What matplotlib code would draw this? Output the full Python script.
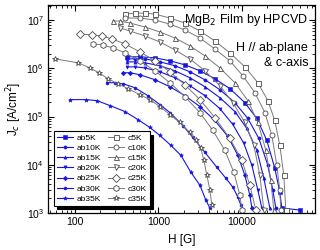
import matplotlib
matplotlib.use("Agg")
import matplotlib.pyplot as plt
from matplotlib.ticker import LogLocator, NullFormatter

plt.rcParams['font.family'] = ['Liberation Sans', 'DejaVu Sans']

# ---- data (H in G, Jc in A/cm^2) ----
ab5_H = [420, 600, 908, 1373, 2076, 3141, 4751, 7184, 10861, 15128, 19923, 24827, 28498, 30113, 49500]
ab5_J = [1.73e6, 1.73e6, 1.65e6, 1.43e6, 1.18e6, 8.88e5, 6.08e5, 3.78e5, 1.94e5, 9.1e4, 3.2e4, 8.47e3, 2.71e3, 1.27e3, 1.15e3]
ab10_H = [420, 523, 689, 1042, 1576, 2384, 3605, 5452, 8245, 11800, 15985, 20478, 23497, 25520]
ab10_J = [1.57e6, 1.57e6, 1.57e6, 1.36e6, 1.13e6, 8.47e5, 5.79e5, 3.6e5, 1.94e5, 9.1e4, 3.52e4, 9.77e3, 2.98e3, 1.27e3]
ab15_H = [420, 523, 689, 1042, 1576, 2384, 3605, 5452, 8245, 11478, 15128, 18345, 21636]
ab15_J = [1.36e6, 1.36e6, 1.3e6, 1.13e6, 8.88e5, 6.37e5, 4.15e5, 2.46e5, 1.27e5, 5.66e4, 1.99e4, 5.27e3, 1.27e3]
ab20_H = [420, 523, 689, 1042, 1576, 2384, 3605, 5452, 7803, 10566, 13181, 15551, 17360]
ab20_J = [1.07e6, 1.07e6, 1.02e6, 8.47e5, 6.37e5, 4.36e5, 2.71e5, 1.46e5, 6.84e4, 2.77e4, 9.77e3, 2.98e3, 1.27e3]
ab25_H = [376, 456, 600, 908, 1373, 2076, 3141, 4751, 6799, 8956, 10861, 12466, 13181]
ab25_J = [8.08e5, 8.08e5, 7.35e5, 5.79e5, 4.15e5, 2.71e5, 1.61e5, 8.27e4, 3.87e4, 1.57e4, 6.08e3, 2.35e3, 1.27e3]
ab30_H = [242, 301, 376, 523, 748, 1042, 1373, 1965, 2589, 3605, 5022, 6432, 7803, 8956, 9728, 10000]
ab30_J = [5.03e5, 5.03e5, 4.79e5, 3.96e5, 2.71e5, 1.77e5, 1.21e5, 6.51e4, 3.69e4, 1.81e4, 8.87e3, 5.27e3, 3.43e3, 2.14e3, 1.46e3, 1.15e3]
ab35_H = [87, 135, 183, 262, 397, 567, 791, 1042, 1413, 1860, 2449, 3141, 3706, 4139]
ab35_J = [2.24e5, 2.24e5, 2.14e5, 1.69e5, 1.27e5, 8.67e4, 5.93e4, 4.06e4, 2.52e4, 1.57e4, 7.0e3, 3.78e3, 1.85e3, 1.27e3]

c5_H = [397, 523, 689, 908, 1373, 2076, 3141, 4751, 7184, 10861, 15551, 20478, 24827, 28498, 31824, 33636]
c5_J = [1.33e7, 1.39e7, 1.39e7, 1.33e7, 1.1e7, 8.67e6, 5.93e6, 3.69e6, 2.09e6, 1.07e6, 5.03e5, 2.14e5, 8.27e4, 2.52e4, 6.08e3, 1.15e3]
c10_H = [397, 600, 908, 1373, 2076, 3141, 4751, 7184, 10280, 14317, 18855, 22860, 26232, 28498, 29295]
c10_J = [1.1e7, 1.1e7, 1.0e7, 8.27e6, 6.22e6, 4.25e6, 2.52e6, 1.43e6, 7.0e5, 3.13e5, 1.21e5, 4.06e4, 9.77e3, 2.98e3, 1.15e3]
c15_H = [285, 346, 456, 689, 1042, 1576, 2384, 3605, 5452, 8245, 11800, 15551, 19382, 22240, 24153]
c15_J = [9.53e6, 9.53e6, 8.67e6, 7.18e6, 5.66e6, 4.25e6, 2.91e6, 1.81e6, 1.02e6, 5.03e5, 2.14e5, 7.52e4, 1.99e4, 4.79e3, 1.15e3]
c20_H = [346, 456, 689, 1042, 1576, 2384, 3605, 5452, 7803, 10861, 13928, 16431, 18345]
c20_J = [6.84e6, 5.93e6, 4.68e6, 3.52e6, 2.41e6, 1.57e6, 8.88e5, 4.36e5, 1.94e5, 7.52e4, 2.52e4, 6.08e3, 1.15e3]
c25_H = [115, 160, 210, 277, 397, 600, 908, 1373, 2076, 3141, 4751, 7184, 10000, 12466, 14716]
c25_J = [5.14e6, 4.91e6, 4.68e6, 4.06e6, 3.2e6, 2.19e6, 1.43e6, 8.47e5, 4.57e5, 2.24e5, 9.53e4, 3.52e4, 1.24e4, 3.78e3, 1.15e3]
c30_H = [164, 216, 285, 397, 600, 908, 1373, 2076, 3141, 4497, 6258, 8021, 9464, 10000]
c30_J = [3.2e6, 3.05e6, 2.65e6, 2.09e6, 1.43e6, 8.88e5, 5.03e5, 2.58e5, 1.21e5, 5.14e4, 1.99e4, 7.0e3, 2.35e3, 1.15e3]
c35_H = [57.6, 108.6, 151, 194, 248, 327, 431, 600, 791, 1042, 1373, 1807, 2384, 2812, 3228, 3507, 3808, 4139, 4374]
c35_J = [1.57e6, 1.3e6, 1.02e6, 8.08e5, 6.08e5, 4.79e5, 3.78e5, 2.85e5, 2.24e5, 1.61e5, 1.1e5, 7.52e4, 4.68e4, 3.2e4, 2.19e4, 1.24e4, 6.08e3, 2.98e3, 1.46e3]

ab_labels = ['ab5K', 'ab10K', 'ab15K', 'ab20K', 'ab25K', 'ab30K', 'ab35K']
c_labels = ['c5K', 'c10K', 'c15K', 'c20K', 'c25K', 'c30K', 'c35K']
ab_series = [(ab5_H, ab5_J), (ab10_H, ab10_J), (ab15_H, ab15_J), (ab20_H, ab20_J),
             (ab25_H, ab25_J), (ab30_H, ab30_J), (ab35_H, ab35_J)]
c_series = [(c5_H, c5_J), (c10_H, c10_J), (c15_H, c15_J), (c20_H, c20_J),
            (c25_H, c25_J), (c30_H, c30_J), (c35_H, c35_J)]

markers = ['s', 'o', '^', 'v', 'D', 'h', '*']
blue = '#1414e6'
gray_line = '#7a7a7a'
gray_edge = '#4a4a4a'

fig = plt.figure(figsize=(3.2, 2.5), dpi=100)
ax = fig.add_axes([0.15, 0.148, 0.834, 0.832])

ab_handles = []
for (h, j), lab, m in zip(ab_series, ab_labels, markers):
    ln, = ax.plot(h, j, color=blue, lw=0.8, marker=m, ms=2.3 if m != '*' else 3,
                  mfc=blue, mec=blue, mew=0.4, label=lab)
    ab_handles.append(ln)

c_handles = []
for (h, j), lab, m in zip(c_series, c_labels, markers):
    ln, = ax.plot(h, j, color=gray_line, lw=0.7, marker=m, ms=3.6 if m not in ('*', 'h') else 4.3,
                  mfc='white', mec=gray_edge, mew=0.6, label=lab)
    c_handles.append(ln)

ax.set_xscale('log')
ax.set_yscale('log')
ax.set_xlim(47.6, 75000)
ax.set_ylim(1e3, 2.05e7)

ax.set_xticks([100, 1000, 10000])
ax.set_xticklabels(['100', '1000', '10000'])
ax.yaxis.set_major_locator(LogLocator(base=10, numticks=10))
ax.yaxis.set_minor_locator(LogLocator(base=10, subs=range(2, 10), numticks=20))
ax.yaxis.set_minor_formatter(NullFormatter())
ax.xaxis.set_minor_formatter(NullFormatter())

ax.tick_params(which='both', direction='in', top=True, right=True, labelsize=7.5, pad=3)
ax.tick_params(which='major', length=4, width=0.8)
ax.tick_params(which='minor', length=2, width=0.6)
for s in ax.spines.values():
    s.set_linewidth(0.9)

ax.set_xlabel('H [G]', fontsize=8.5, labelpad=5)
ax.set_ylabel('J$_c$ [A/cm$^2$]', fontsize=8.5, labelpad=2)

ax.text(0.975, 0.928, 'MgB$_2$ Film by HPCVD', transform=ax.transAxes, ha='right', va='center', fontsize=9)
ax.text(0.975, 0.793, 'H // ab-plane', transform=ax.transAxes, ha='right', va='center', fontsize=9)
ax.text(0.975, 0.721, '& c-axis', transform=ax.transAxes, ha='right', va='center', fontsize=9)

leg = ax.legend(ab_handles + c_handles, ab_labels + c_labels, ncol=2, loc='lower left',
                bbox_to_anchor=(0.022, 0.035), fontsize=6, frameon=True, fancybox=False,
                edgecolor='black', framealpha=1, handlelength=2.0, handletextpad=0.4,
                columnspacing=0.8, labelspacing=0.28, borderpad=0.35, borderaxespad=0,
                shadow={'ox': 2.5, 'oy': -2.5, 'facecolor': 'black', 'edgecolor': 'black', 'alpha': 1})
leg.get_frame().set_linewidth(0.8)

fig.savefig('out.png', dpi=100)
